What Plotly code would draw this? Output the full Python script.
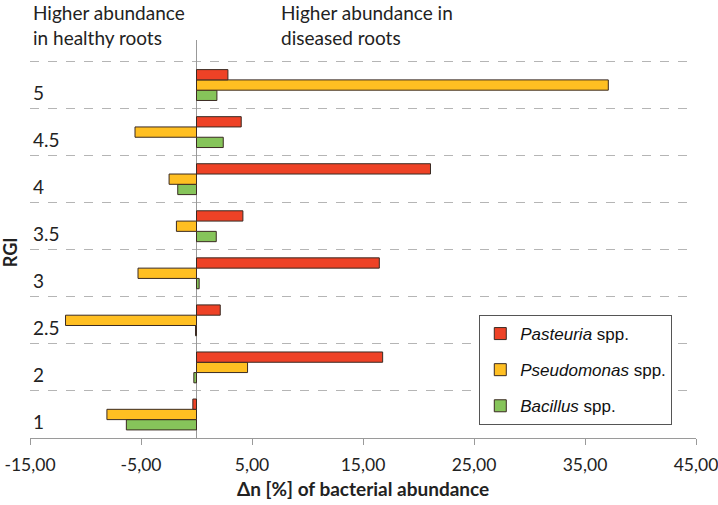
import plotly.graph_objects as go

rgi_labels = ["1", "2", "2.5", "3", "3.5", "4", "4.5", "5"]
pasteuria = [-0.33, 16.77, 2.14, 16.47, 4.18, 21.08, 4.03, 2.83]
pseudomonas = [-8.07, 4.60, -11.80, -5.27, -1.81, -2.47, -5.54, 37.1]
bacillus = [-6.32, -0.24, -0.09, 0.24, 1.78, -1.69, 2.41, 1.84]

x_ticks = [-15, -5, 5, 15, 25, 35, 45]
x_ticktext = ["-15,00", "-5,00", "5,00", "15,00", "25,00", "35,00", "45,00"]

pos = list(range(len(rgi_labels)))

series = [
    ("<i>Bacillus</i> spp.", bacillus, "#86C45A", 3),
    ("<i>Pseudomonas</i> spp.", pseudomonas, "#FFBF22", 2),
    ("<i>Pasteuria</i> spp.", pasteuria, "#EE4226", 1),
]

fig = go.Figure()
for name, vals, col, rank in series:
    fig.add_trace(go.Bar(
        x=vals, y=pos, orientation="h", name=name, legendgroup=name, legendrank=rank,
        marker=dict(color=col, line=dict(color="#3a2a22", width=1)),
    ))

font_main = "Lato, 'Open Sans', sans-serif"

fig.update_layout(
    width=718, height=505,
    margin=dict(l=30, r=22, t=40, b=67, autoexpand=False),
    paper_bgcolor="white", plot_bgcolor="white",
    barmode="group", bargap=0.344, bargroupgap=0,
    showlegend=True,
    legend=dict(
        x=0.6746, y=0.309, xanchor="left", yanchor="top",
        bgcolor="white", bordercolor="#555555", borderwidth=1,
        font=dict(family="'Liberation Sans', Arial, sans-serif", size=17, color="#111"),
        traceorder="grouped", tracegroupgap=11,
    ),
    font=dict(family=font_main, color="#222"),
)

fig.update_xaxes(
    range=[-15, 45], tickmode="array", tickvals=x_ticks, ticktext=x_ticktext,
    automargin=False, ticklabeloverflow="allow",
    showgrid=False, zeroline=True, zerolinecolor="#999999", zerolinewidth=1,
    showline=True, linecolor="#9a9a9a", linewidth=1,
    ticks="outside", ticklen=6, tickcolor="#9a9a9a",
    tickfont=dict(family=font_main, size=17.5, color="#222"),
    ticklabelstandoff=5,
)

fig.update_yaxes(
    range=[-0.5, 7.957], tickmode="array", tickvals=pos, showticklabels=False,
    automargin=False, ticks="",
    showgrid=False, zeroline=False, showline=False,
    minor=dict(tickmode="array", tickvals=[p + 0.5 for p in pos], showgrid=True,
               gridcolor="#b5b5b5", griddash="dash", gridwidth=1, ticks=""),
)

for p, lab in zip(pos, rgi_labels):
    fig.add_annotation(
        text=lab, xref="paper", yref="y", x=0.0015, y=p - 0.15,
        xanchor="left", yanchor="middle", showarrow=False,
        font=dict(family=font_main, size=19, color="#222"),
    )

fig.add_annotation(
    text="<b>Δn [%] of bacterial abundance</b>", xref="paper", yref="paper",
    x=0.5, y=-0.128, xanchor="center", yanchor="middle", showarrow=False,
    font=dict(family=font_main, size=19, color="#222"),
)
fig.add_annotation(
    text="Higher abundance<br>in healthy roots", xref="paper", yref="paper",
    x=0.0015, y=1.103, xanchor="left", yanchor="top", showarrow=False, align="left",
    font=dict(family=font_main, size=19, color="#222"),
)
fig.add_annotation(
    text="Higher abundance in<br>diseased roots", xref="paper", yref="paper",
    x=0.374, y=1.103, xanchor="left", yanchor="top", showarrow=False, align="left",
    font=dict(family=font_main, size=19, color="#222"),
)
fig.add_annotation(
    text="<b>RGI</b>", xref="paper", yref="paper", x=-0.03, y=0.467,
    xanchor="center", yanchor="middle", textangle=-90, showarrow=False,
    font=dict(family=font_main, size=18, color="#222"),
)

fig.write_html("out.html", config={"displayModeBar": False},
               post_script="document.body.style.margin='0';")
